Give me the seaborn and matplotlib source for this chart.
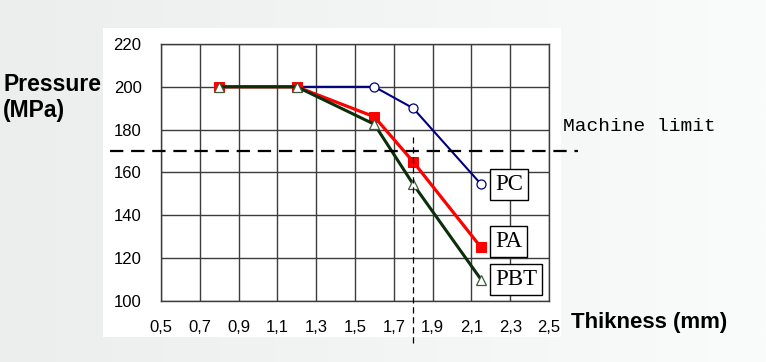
import numpy as np
import matplotlib
matplotlib.use("Agg")
import matplotlib.pyplot as plt
from matplotlib.patches import Rectangle
from matplotlib.ticker import FuncFormatter, MultipleLocator
import seaborn as sns

# valores
espessura = [0.8, 1.2, 1.6, 1.8, 2.15]
pressao_pc = [200, 200, 200, 190, 154.5]
pressao_pa = [200, 200, 186, 165, 125]
pressao_pbt = [200, 200, 182.5, 154.5, 110]
limite_maquina = 170
espessura_limite = 1.8

x_ticks = [0.5, 0.7, 0.9, 1.1, 1.3, 1.5, 1.7, 1.9, 2.1, 2.3, 2.5]
y_ticks = [100, 120, 140, 160, 180, 200, 220]

sns.set_style("white")
plt.rcParams["font.family"] = ["Liberation Sans", "DejaVu Sans"]
plt.rcParams["text.color"] = "black"

fig = plt.figure(figsize=(7.66, 3.62), dpi=100)

# fundo cinza claro com gradiente
fundo = fig.add_axes([0, 0, 1, 1], zorder=-10)
grad = np.linspace(0, 1, 256).reshape(1, -1)
fundo.imshow(grad, aspect="auto", cmap=matplotlib.colors.LinearSegmentedColormap.from_list(
    "bg", ["#eceeee", "#f3f5f5", "#fafbfb"]), extent=[0, 1, 0, 1])
fundo.axis("off")

# painel branco do grafico
fig.patches.append(Rectangle((0.1345, 0.069), 0.598, 0.854, transform=fig.transFigure,
                             facecolor="white", edgecolor="none", zorder=-5))

ax = fig.add_axes([0.2102, 0.1685, 0.5065, 0.71])
ax.set_facecolor("white")

sns.lineplot(x=espessura, y=pressao_pc, ax=ax, color="#000080", linewidth=1.5,
             marker="o", markersize=6.5, markerfacecolor="white",
             markeredgecolor="#000080", markeredgewidth=0.9, zorder=3)
sns.lineplot(x=espessura, y=pressao_pa, ax=ax, color="#ff0000", linewidth=2.3,
             marker="s", markersize=6.5, markerfacecolor="#ff0000",
             markeredgecolor="#ff0000", zorder=4)
sns.lineplot(x=espessura, y=pressao_pbt, ax=ax, color="#0b2e0b", linewidth=2.2,
             marker="^", markersize=7, markerfacecolor="white",
             markeredgecolor="#3d5a3d", markeredgewidth=0.9, zorder=5)

ax.set_xlim(0.5, 2.5)
ax.set_ylim(100, 220)
ax.set_xticks(x_ticks)
ax.set_yticks(y_ticks)
ax.xaxis.set_minor_locator(MultipleLocator(0.04))
ax.yaxis.set_minor_locator(MultipleLocator(4))
ax.xaxis.set_major_formatter(FuncFormatter(lambda v, p: f"{v:.1f}".replace(".", ",")))
ax.grid(True, which="major", color="#3c3c3c", linewidth=1.0)
ax.tick_params(which="major", length=0, labelsize=12, colors="black")
ax.tick_params(axis="x", which="major", pad=14)
ax.tick_params(axis="y", which="major", pad=14)
ax.tick_params(which="minor", direction="in", length=3, width=0.8, color="#3c3c3c")
for lado in ax.spines.values():
    lado.set_color("#3c3c3c")
    lado.set_linewidth(1.0)

# limite da maquina
ax.axhline(limite_maquina, xmin=-0.131, xmax=1.075, color="black", linewidth=1.6,
           dashes=(6, 3.5), clip_on=False, zorder=6)
ax.axvline(espessura_limite, ymin=-0.165, ymax=0.64, color="black", linewidth=0.9,
           dashes=(5, 3), clip_on=False, zorder=6)
fig.text(0.735, 0.637, "Machine limit", fontsize=14, family="Liberation Mono",
         ha="left", va="baseline")

# rotulos das series
rotulos = [("PC", pressao_pc, 0), ("PA", pressao_pa, 4), ("PBT", pressao_pbt, 0)]
for nome, serie, dy in rotulos:
    ax.annotate(nome, xy=(espessura[-1], serie[-1]), xytext=(10, dy),
                textcoords="offset points", ha="left", va="center",
                fontsize=16.5, family="Liberation Serif", zorder=7,
                bbox=dict(boxstyle="square,pad=0.22", facecolor="white",
                          edgecolor="black", linewidth=1.0))

fig.text(0.004, 0.677, "Pressure\n(MPa)", fontsize=16.5, fontweight="bold",
         ha="left", va="baseline", linespacing=1.15)
fig.text(0.745, 0.094, "Thikness (mm)", fontsize=16, fontweight="bold",
         ha="left", va="baseline")

fig.savefig("out.png", dpi=100)
